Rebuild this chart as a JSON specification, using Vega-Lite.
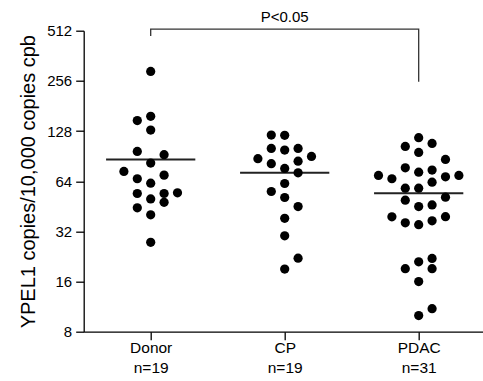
{
  "$schema": "https://vega.github.io/schema/vega-lite/v6.json",
  "width": 402,
  "height": 301,
  "autosize": {"type": "none"},
  "padding": {"left": 83.7, "top": 30.7, "right": 0, "bottom": 49.3},
  "background": "white",
  "config": {
    "view": {"stroke": null},
    "axis": {
      "grid": false,
      "domainColor": "black",
      "tickColor": "black",
      "labelColor": "black",
      "titleColor": "black",
      "labelFont": "Liberation Sans",
      "titleFont": "Liberation Sans",
      "domainWidth": 1.3,
      "tickWidth": 1.3,
      "tickSize": 8
    }
  },
  "datasets": {
    "points": [
      {"group": "Donor", "x": 1.0, "v": 291.6},
      {"group": "Donor", "x": 1.0, "v": 156.9},
      {"group": "Donor", "x": 0.9, "v": 147.9},
      {"group": "Donor", "x": 1.0, "v": 129.8},
      {"group": "Donor", "x": 0.9, "v": 96.6},
      {"group": "Donor", "x": 1.1, "v": 92.3},
      {"group": "Donor", "x": 1.0, "v": 82.2},
      {"group": "Donor", "x": 0.8, "v": 73.2},
      {"group": "Donor", "x": 0.9, "v": 66.2},
      {"group": "Donor", "x": 1.1, "v": 69.6},
      {"group": "Donor", "x": 1.0, "v": 62.3},
      {"group": "Donor", "x": 0.9, "v": 54.0},
      {"group": "Donor", "x": 1.1, "v": 54.0},
      {"group": "Donor", "x": 1.2, "v": 54.5},
      {"group": "Donor", "x": 1.0, "v": 50.1},
      {"group": "Donor", "x": 1.1, "v": 47.8},
      {"group": "Donor", "x": 0.9, "v": 44.3},
      {"group": "Donor", "x": 1.0, "v": 40.2},
      {"group": "Donor", "x": 1.0, "v": 27.5},
      {"group": "CP", "x": 1.9, "v": 121.1},
      {"group": "CP", "x": 2.0, "v": 120.6},
      {"group": "CP", "x": 1.9, "v": 100.7},
      {"group": "CP", "x": 2.0, "v": 98.4},
      {"group": "CP", "x": 2.1, "v": 100.7},
      {"group": "CP", "x": 1.8, "v": 87.3},
      {"group": "CP", "x": 1.9, "v": 81.5},
      {"group": "CP", "x": 2.1, "v": 84.4},
      {"group": "CP", "x": 2.2, "v": 90.1},
      {"group": "CP", "x": 2.0, "v": 76.3},
      {"group": "CP", "x": 2.1, "v": 71.9},
      {"group": "CP", "x": 2.0, "v": 62.0},
      {"group": "CP", "x": 1.9, "v": 55.5},
      {"group": "CP", "x": 2.0, "v": 51.1},
      {"group": "CP", "x": 2.1, "v": 45.1},
      {"group": "CP", "x": 2.0, "v": 38.3},
      {"group": "CP", "x": 2.0, "v": 30.1},
      {"group": "CP", "x": 2.1, "v": 22.1},
      {"group": "CP", "x": 2.0, "v": 19.0},
      {"group": "PDAC", "x": 3.0, "v": 116.8},
      {"group": "PDAC", "x": 2.9, "v": 103.5},
      {"group": "PDAC", "x": 3.1, "v": 107.9},
      {"group": "PDAC", "x": 3.0, "v": 95.3},
      {"group": "PDAC", "x": 3.2, "v": 86.5},
      {"group": "PDAC", "x": 2.9, "v": 77.0},
      {"group": "PDAC", "x": 3.0, "v": 72.5},
      {"group": "PDAC", "x": 3.1, "v": 74.6},
      {"group": "PDAC", "x": 2.7, "v": 69.3},
      {"group": "PDAC", "x": 2.8, "v": 66.2},
      {"group": "PDAC", "x": 3.2, "v": 68.0},
      {"group": "PDAC", "x": 3.3, "v": 69.3},
      {"group": "PDAC", "x": 3.1, "v": 63.1},
      {"group": "PDAC", "x": 2.9, "v": 58.1},
      {"group": "PDAC", "x": 3.0, "v": 58.1},
      {"group": "PDAC", "x": 3.2, "v": 51.3},
      {"group": "PDAC", "x": 2.9, "v": 49.2},
      {"group": "PDAC", "x": 3.0, "v": 45.1},
      {"group": "PDAC", "x": 3.1, "v": 46.1},
      {"group": "PDAC", "x": 2.8, "v": 39.1},
      {"group": "PDAC", "x": 2.9, "v": 36.0},
      {"group": "PDAC", "x": 3.0, "v": 35.1},
      {"group": "PDAC", "x": 3.1, "v": 37.0},
      {"group": "PDAC", "x": 3.2, "v": 39.2},
      {"group": "PDAC", "x": 3.1, "v": 22.0},
      {"group": "PDAC", "x": 3.0, "v": 21.0},
      {"group": "PDAC", "x": 2.9, "v": 19.1},
      {"group": "PDAC", "x": 3.1, "v": 19.1},
      {"group": "PDAC", "x": 3.0, "v": 16.0},
      {"group": "PDAC", "x": 3.1, "v": 11.0},
      {"group": "PDAC", "x": 3.0, "v": 10.0}
    ],
    "means": [
      {"group": "Donor", "x1": 0.667, "x2": 1.333, "mean": 86.5},
      {"group": "CP", "x1": 1.667, "x2": 2.333, "mean": 71.9},
      {"group": "PDAC", "x1": 2.667, "x2": 3.333, "mean": 54.2}
    ],
    "bracket": [
      {"step": 1, "x": 1, "v": 476},
      {"step": 2, "x": 1, "v": 524},
      {"step": 3, "x": 3, "v": 524},
      {"step": 4, "x": 3, "v": 253}
    ],
    "annotation": [
      {"x": 2, "v": 575, "text": "P<0.05"}
    ]
  },
  "layer": [
    {
      "data": {"name": "means"},
      "mark": {"type": "rule", "color": "#222222", "strokeWidth": 2},
      "encoding": {
        "x": {
          "field": "x1",
          "type": "quantitative",
          "scale": {"domain": [0.5, 3.5], "nice": false, "zero": false},
          "axis": {
            "values": [1, 2, 3],
            "title": null,
            "labelExpr": "datum.value == 1 ? ['Donor', 'n=19'] : datum.value == 2 ? ['CP', 'n=19'] : ['PDAC', 'n=31']",
            "labelFontSize": 15.5,
            "labelLineHeight": 20,
            "labelPadding": 1,
            "labelBaseline": "top"
          }
        },
        "x2": {"field": "x2"},
        "y": {
          "field": "mean",
          "type": "quantitative",
          "scale": {"type": "log", "base": 2, "domain": [8, 512], "nice": false},
          "axis": {
            "values": [8, 16, 32, 64, 128, 256, 512],
            "format": "d",
            "title": "YPEL1 copies/10,000 copies cpb",
            "titleFontSize": 20,
            "titleFontWeight": "normal",
            "titlePadding": 8,
            "labelFontSize": 15,
            "labelPadding": 4
          }
        }
      }
    },
    {
      "data": {"name": "points"},
      "mark": {"type": "circle", "size": 85, "opacity": 1, "color": "black"},
      "encoding": {
        "x": {"field": "x", "type": "quantitative"},
        "y": {"field": "v", "type": "quantitative"}
      }
    },
    {
      "data": {"name": "bracket"},
      "mark": {"type": "line", "color": "#333333", "strokeWidth": 1.3},
      "encoding": {
        "x": {"field": "x", "type": "quantitative"},
        "y": {"field": "v", "type": "quantitative"},
        "order": {"field": "step", "type": "quantitative"}
      }
    },
    {
      "data": {"name": "annotation"},
      "mark": {"type": "text", "font": "Liberation Sans", "fontSize": 15, "align": "center", "baseline": "alphabetic", "color": "black"},
      "encoding": {
        "x": {"field": "x", "type": "quantitative"},
        "y": {"field": "v", "type": "quantitative"},
        "text": {"field": "text"}
      }
    }
  ]
}
